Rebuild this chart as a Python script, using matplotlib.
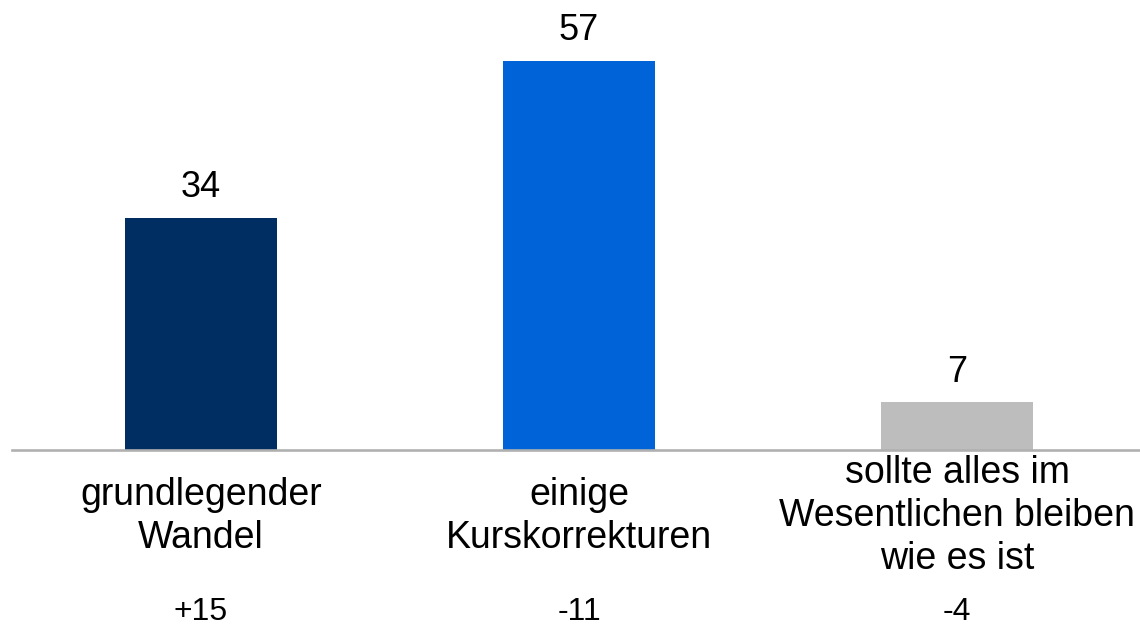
import numpy as np
import matplotlib.pyplot as plt

plt.rcParams['font.family'] = ['Liberation Sans', 'DejaVu Sans']

## data
categories = ["grundlegender\nWandel", "einige\nKurskorrekturen",
              "sollte alles im\nWesentlichen bleiben\nwie es ist"]
values = [34, 57, 7]
changes = ["+15", "-11", "-4"]
colors = ["#002d62", "#0063d8", "#bdbdbd"]

fig = plt.figure(figsize=(11.4, 6.29), dpi=100)
ax = fig.add_axes([0, 0, 1, 1])

x = np.arange(len(values))
ax.bar(x, values, width=0.402, color=colors, zorder=2)

# value labels above bars
for xi, v in zip(x, values):
    ax.annotate(str(v), (xi, v), xytext=(0, 9), textcoords="offset points",
                ha="center", va="bottom", fontsize=26)

# category labels + change below baseline
for xi, cat, ch in zip(x, categories, changes):
    ax.text(xi, -9.7, cat, ha="center", va="center", fontsize=27, linespacing=1.26)
    ax.text(xi, -23.8, ch, ha="center", va="center", fontsize=23)

# baseline
ax.axhline(0, xmin=12 / 1140, xmax=1, color="#b0b0b0", linewidth=1.9, zorder=3)

# map axes so it fills the figure
ax.set_xlim(-201 / 378, (1140 - 201) / 378)
ax.set_ylim(-179 / 6.825, 450 / 6.825)
ax.axis("off")

fig.savefig("out.png", dpi=100)
